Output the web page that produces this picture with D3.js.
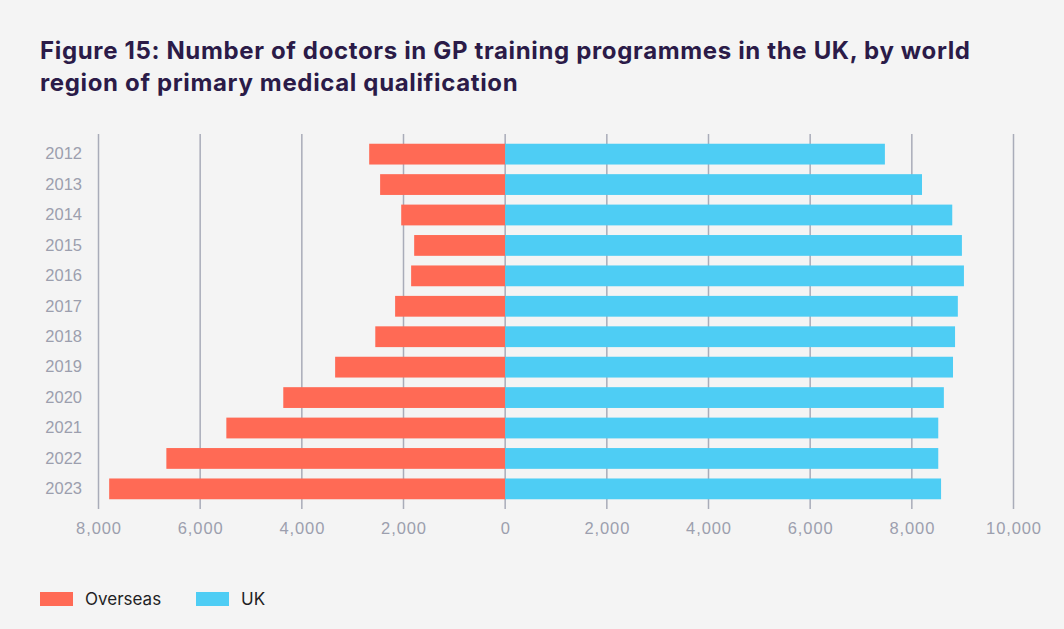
<!DOCTYPE html>
<meta charset="utf-8">
<style>
body { margin: 0; background: #f4f4f4; }
svg { display: block; font-family: Inter, "Noto Sans", sans-serif; }
.title { fill: #2b1b48; font-weight: 700; font-size: 24px; letter-spacing: 0.65px; }
.grid line { stroke: #a9acb9; stroke-width: 1.5px; }
.axis text { fill: #9c9fae; font-size: 16.5px; }
.xaxis text { letter-spacing: 0.9px; }
.legend text { fill: #1f1f24; font-size: 17px; }
</style>
<body>
<script src="https://d3js.org/d3.v7.min.js"></script>
<script>

// data
var years = ["2012", "2013", "2014", "2015", "2016", "2017", "2018", "2019", "2020", "2021", "2022", "2023"];
var overseas = [2675, 2460, 2045, 1790, 1850, 2165, 2555, 3345, 4365, 5485, 6665, 7790];
var uk = [7470, 8200, 8795, 8985, 9025, 8905, 8850, 8810, 8630, 8520, 8520, 8575];
var tickValues = [-8000, -6000, -4000, -2000, 0, 2000, 4000, 6000, 8000, 10000];
var seriesNames = ["Overseas", "UK"];
var colors = ["#ff6a55", "#4ecdf4"];

var W = 1064, H = 629;

var svg = d3.select("body").append("svg")
    .attr("width", W)
    .attr("height", H);

svg.append("rect").attr("width", W).attr("height", H).attr("fill", "#f4f4f4");

// title
var title = svg.append("text").attr("class", "title");
title.append("tspan").attr("x", 40).attr("y", 59)
    .text("Figure 15: Number of doctors in GP training programmes in the UK, by world");
title.append("tspan").attr("x", 40).attr("y", 91)
    .text("region of primary medical qualification");

// scales
var x = d3.scaleLinear().domain([-8000, 10000]).range([98.5, 1013.5]);
var y = d3.scaleBand().domain(years).range([134, 509])
    .paddingInner(0.317).paddingOuter(0.32);

// gridlines behind the bars
svg.append("g")
    .attr("class", "grid")
  .selectAll("line")
    .data(tickValues)
  .enter().append("line")
    .attr("x1", function(d) { return x(d); })
    .attr("x2", function(d) { return x(d); })
    .attr("y1", 134)
    .attr("y2", 509);

// overseas bars (drawn to the left of zero)
svg.append("g").selectAll("rect")
    .data(years)
  .enter().append("rect")
    .attr("fill", colors[0])
    .attr("x", function(d, i) { return x(-overseas[i]); })
    .attr("width", function(d, i) { return x(0) - x(-overseas[i]); })
    .attr("y", function(d) { return y(d); })
    .attr("height", y.bandwidth());

// UK bars
svg.append("g").selectAll("rect")
    .data(years)
  .enter().append("rect")
    .attr("fill", colors[1])
    .attr("x", x(0))
    .attr("width", function(d, i) { return x(uk[i]) - x(0); })
    .attr("y", function(d) { return y(d); })
    .attr("height", y.bandwidth());

// x axis labels
var xAxis = svg.append("g")
    .attr("class", "axis xaxis")
    .attr("transform", "translate(0,522)")
    .call(d3.axisBottom(x).tickValues(tickValues).tickSize(0).tickPadding(0)
      .tickFormat(function(d) { return d3.format(",")(Math.abs(d)); }));
xAxis.select(".domain").remove();
xAxis.selectAll("text").attr("dy", "0.71em");

// y axis labels
var yAxis = svg.append("g")
    .attr("class", "axis")
    .attr("transform", "translate(82,0)")
    .call(d3.axisLeft(y).tickSize(0).tickPadding(0));
yAxis.select(".domain").remove();

// legend
var legend = svg.append("g").attr("class", "legend")
  .selectAll("g")
    .data(seriesNames)
  .enter().append("g")
    .attr("transform", function(d, i) { return "translate(" + (40 + i * 156) + ",592)"; });

legend.append("rect")
    .attr("width", 33)
    .attr("height", 14)
    .attr("fill", function(d, i) { return colors[i]; });

legend.append("text")
    .attr("x", 45)
    .attr("y", 7)
    .attr("dy", "0.35em")
    .text(function(d) { return d; });

</script>
</body>
